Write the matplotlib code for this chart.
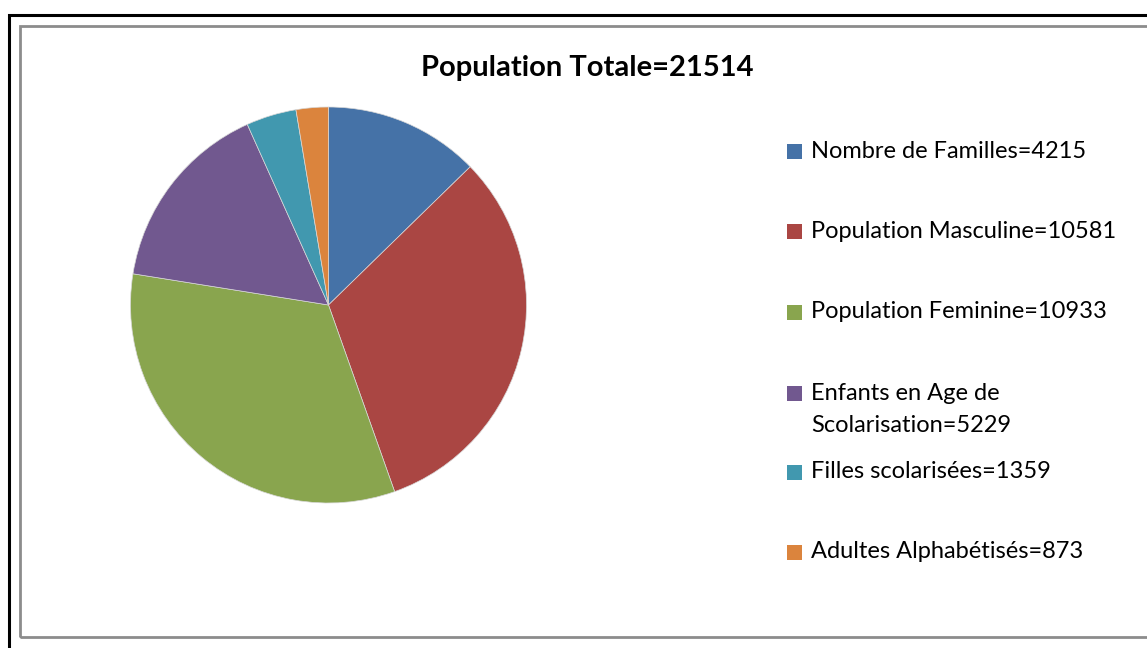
import matplotlib
matplotlib.use("Agg")
import matplotlib.pyplot as plt
from matplotlib.patches import Rectangle

# population data
labels = [
    "Nombre de Familles=4215",
    "Population Masculine=10581",
    "Population Feminine=10933",
    "Enfants en Age de\nScolarisation=5229",
    "Filles scolarisées=1359",
    "Adultes Alphabétisés=873",
]
values = [4215, 10581, 10933, 5229, 1359, 873]
colors = ["#4572A7", "#AA4643", "#89A54E", "#71588F", "#4198AF", "#DB843D"]
title = "Population Totale=21514"

W, H = 1147, 648
plt.rcParams["font.family"] = ["Lato", "DejaVu Sans"]
fig = plt.figure(figsize=(W / 100, H / 100), dpi=100)

def fx(px):
    return px / W

def fy(py):
    return 1 - py / H

# outer black frame and inner grey frame (run off the right/bottom edge)
fig.patches.append(Rectangle((fx(9), fy(700)), fx(1300), fy(15) - fy(700),
                             transform=fig.transFigure, fill=False,
                             edgecolor="black", linewidth=2.2))
fig.patches.append(Rectangle((fx(20), fy(637)), fx(1300), fy(26) - fy(637),
                             transform=fig.transFigure, fill=False,
                             edgecolor="#8c8c8c", linewidth=2))

# pie
cx, cy, half = 328.5, 305, 200
ax = fig.add_axes([fx(cx - half), fy(cy + half), 2 * half / W, 2 * half / H])
ax.pie(values, colors=colors, startangle=90, counterclock=False, radius=198 / 200,
       wedgeprops=dict(edgecolor="#d8d8d8", linewidth=0.5))
ax.set_xlim(-1, 1)
ax.set_ylim(-1, 1)
ax.set_aspect("equal")
ax.axis("off")

fig.text(fx(587), fy(68), title, ha="center", va="center",
         fontsize=21, fontweight="bold")

# legend drawn by hand
legY = [151, 232, 312, 393, 472, 552]
for lab, col, y in zip(labels, colors, legY):
    fig.patches.append(Rectangle((fx(787), fy(y + 7.5)), fx(15), fy(0) - fy(15),
                                 transform=fig.transFigure, facecolor=col,
                                 edgecolor="none"))
    for i, line in enumerate(lab.split("\n")):
        fig.text(fx(811), fy(y + 32 * i), line, ha="left", va="center", fontsize=17)

fig.savefig("out.png", dpi=100)
